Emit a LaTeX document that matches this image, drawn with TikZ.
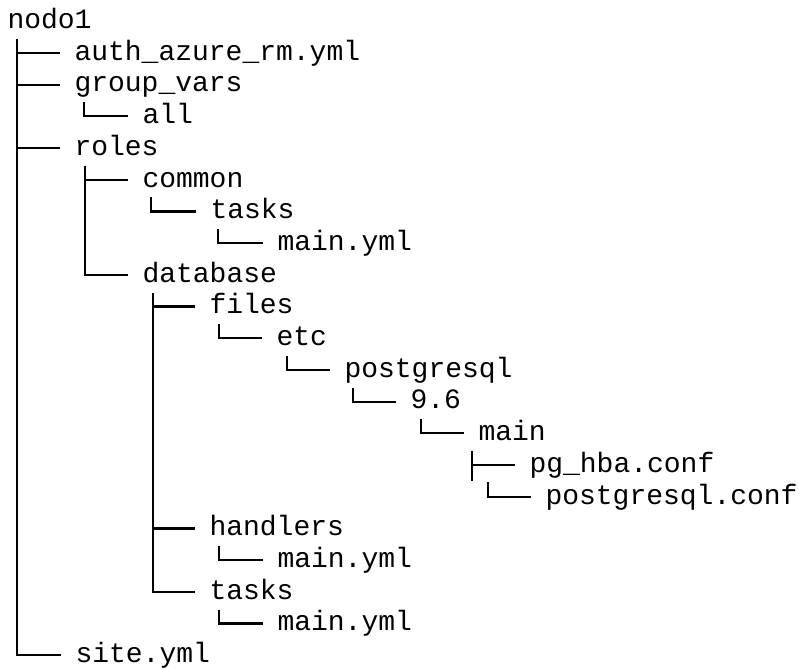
\documentclass[tikz,border=0pt]{standalone}
\usepackage{fontspec}
\newfontfamily\treefont{Liberation Mono}
\usetikzlibrary{calc}
\begin{document}
\begin{tikzpicture}[x=0.75pt,y=-0.75pt,
  entry/.style={anchor=base west, inner sep=0pt, outer sep=0pt,
    font=\treefont\fontsize{21pt}{25pt}\selectfont, text=black},
  conn/.style={draw=black, line width=1.65pt}]
\fill[white] (0,0) rectangle (803,668);
\useasboundingbox (0,0) rectangle (803,668);
% entries
\node[entry] (n0)       at (7.5,28.5)   {nodo1};
\node[entry] (auth)     at (74.5,60.2)  {auth\_azure\_rm.yml};
\node[entry] (gv)       at (74.5,91.9)  {group\_vars};
\node[entry] (all)      at (142.5,123.6) {all};
\node[entry] (roles)    at (74.5,155.3) {roles};
\node[entry] (common)   at (142.5,187.0) {common};
\node[entry] (ctasks)   at (210.5,218.7) {tasks};
\node[entry] (cmain)    at (277.5,250.4) {main.yml};
\node[entry] (db)       at (142.5,282.1) {database};
\node[entry] (files)    at (209.5,313.8) {files};
\node[entry] (etc)      at (276.5,345.5) {etc};
\node[entry] (pg)       at (344.5,377.2) {postgresql};
\node[entry] (v96)      at (410.5,408.9) {9.6};
\node[entry] (main)     at (478.5,440.6) {main};
\node[entry] (hba)      at (529.5,472.3) {pg\_hba.conf};
\node[entry] (pgconf)   at (545.5,504.0) {postgresql.conf};
\node[entry] (handlers) at (209.5,535.7) {handlers};
\node[entry] (hmain)    at (277.5,567.4) {main.yml};
\node[entry] (dtasks)   at (209.5,599.1) {tasks};
\node[entry] (tmain)    at (277.5,630.8) {main.yml};
\node[entry] (site)     at (75.5,662.5) {site.yml};
% connector end points at each child
\foreach \n in {auth,gv,all,roles,common,ctasks,cmain,db,files,etc,pg,v96,main,hba,pgconf,handlers,hmain,dtasks,tmain,site}
  \coordinate (\n-in) at ($(\n.base west)+(-15,-7.3)$);
% vertical start points under each parent
\coordinate (n0-v)       at ($(n0.base west)+(9.5,10.4)$);
\coordinate (gv-v)       at ($(gv.base west)+(9.5,10.4)$);
\coordinate (roles-v)    at ($(roles.base west)+(10.5,10.4)$);
\coordinate (common-v)   at ($(common.base west)+(8.5,10.4)$);
\coordinate (ctasks-v)   at ($(ctasks.base west)+(7.5,10.4)$);
\coordinate (db-v)       at ($(db.base west)+(10.5,10.4)$);
\coordinate (files-v)    at ($(files.base west)+(9.5,10.4)$);
\coordinate (etc-v)      at ($(etc.base west)+(10.5,10.4)$);
\coordinate (pg-v)       at ($(pg.base west)+(8.5,10.4)$);
\coordinate (v96-v)      at ($(v96.base west)+(10.5,10.4)$);
\coordinate (main-v)     at ($(main.base west)+(-6.5,10.4)$);
\coordinate (main-end)   at ($(main-v)+(0,30)$);
\coordinate (main-w)     at ($(main.base west)+(9.5,41.7)$);
\coordinate (handlers-v) at ($(handlers.base west)+(9.5,10.4)$);
\coordinate (dtasks-v)   at ($(dtasks.base west)+(9.5,10.4)$);
% nodo1
\draw[conn] (n0-v) |- (site-in);
\foreach \c in {auth,gv,roles} \draw[conn] (n0-v |- \c-in) -- (\c-in);
% group_vars
\draw[conn] (gv-v) |- (all-in);
% roles
\draw[conn] (roles-v) |- (db-in);
\draw[conn] (roles-v |- common-in) -- (common-in);
% common
\draw[conn] (common-v) |- (ctasks-in);
\draw[conn] (ctasks-v) |- (cmain-in);
% database
\draw[conn] (db-v) |- (dtasks-in);
\foreach \c in {files,handlers} \draw[conn] (db-v |- \c-in) -- (\c-in);
\draw[conn] (files-v) |- (etc-in);
\draw[conn] (etc-v) |- (pg-in);
\draw[conn] (pg-v) |- (v96-in);
\draw[conn] (v96-v) |- (main-in);
\draw[conn] (main-v) -- (main-end);
\draw[conn] (main-v |- hba-in) -- (hba-in);
\draw[conn] (main-w) |- (pgconf-in);
\draw[conn] (handlers-v) |- (hmain-in);
\draw[conn] (dtasks-v) |- (tmain-in);
\end{tikzpicture}
\end{document}
